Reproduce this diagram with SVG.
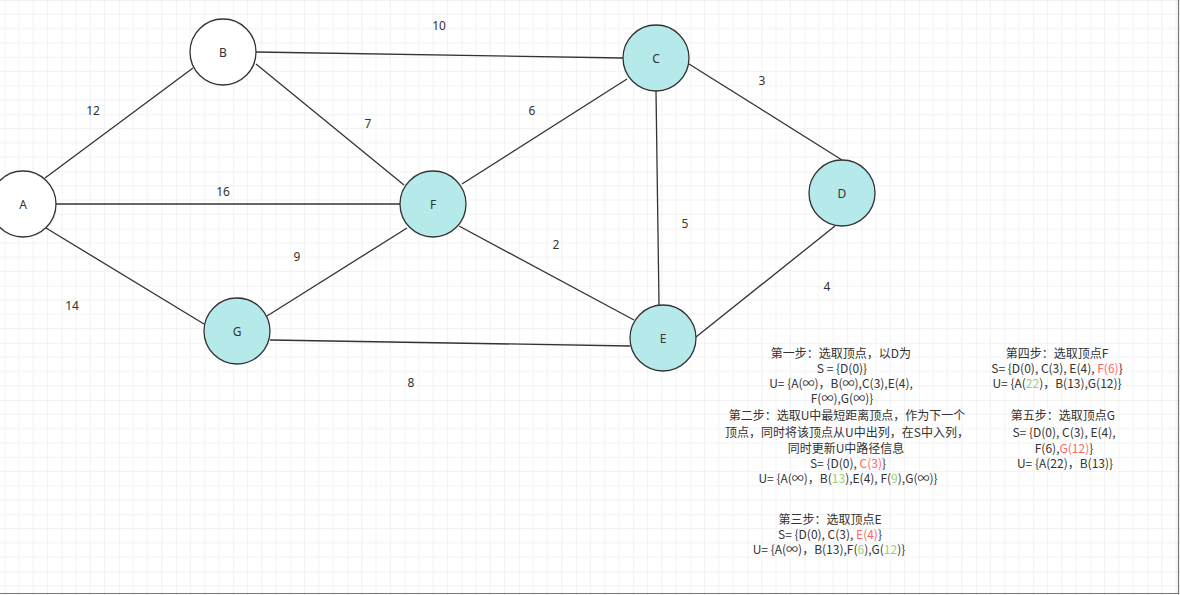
<svg xmlns="http://www.w3.org/2000/svg" width="1180" height="595" viewBox="0 0 1180 595">
<style>
.edge{stroke:#333;stroke-width:1.3;fill:none}
.node{fill:#b5e9ea;stroke:#333;stroke-width:1.3}
.node.w{fill:#fff}
.nl{font-family:"Noto Sans","Liberation Sans",sans-serif;font-size:12px;fill:#333;text-anchor:middle}
.el{font-family:"Noto Sans","Liberation Sans",sans-serif;font-size:12px;fill:#333;text-anchor:middle}
.t{font-family:"Noto Sans CJK SC",sans-serif;font-size:12px;fill:#333;text-anchor:middle}
.r{fill:#ff6666}
.g{fill:#97d077}
</style>
<defs>
<pattern id="grid" patternUnits="userSpaceOnUse" x="4.6" y="0" width="57.142857" height="57.142857">
<path d="M14.2857 0V57.14M28.5714 0V57.14M42.857 0V57.14M0 14.2857H57.14M0 28.5714H57.14M0 42.857H57.14" stroke="#f2f2f2" stroke-width="1" fill="none"/>
<path d="M0 0V57.14M0 0H57.14" stroke="#e8e8e8" stroke-width="1" fill="none"/>
</pattern>
</defs>
<rect width="1180" height="595" fill="#fff"/>
<rect width="1180" height="595" fill="url(#grid)"/>
<path d="M1178.5 0V594.5M0 593.5H1179" stroke="#777" stroke-width="1.2" fill="none"/>
<g id="connectors">
<line class="edge" x1="45" y1="178" x2="193" y2="68"/>
<line class="edge" x1="56" y1="204" x2="400" y2="204"/>
<line class="edge" x1="46" y1="228" x2="204" y2="324"/>
<line class="edge" x1="256" y1="52" x2="623" y2="58"/>
<line class="edge" x1="256" y1="64" x2="404" y2="185"/>
<line class="edge" x1="462" y1="184" x2="627" y2="79"/>
<line class="edge" x1="689" y1="64" x2="842" y2="160"/>
<line class="edge" x1="656" y1="91" x2="659" y2="305"/>
<line class="edge" x1="459" y1="226" x2="634" y2="320"/>
<line class="edge" x1="407" y1="228" x2="267" y2="316"/>
<line class="edge" x1="835" y1="226" x2="696" y2="337"/>
<line class="edge" x1="270" y1="340" x2="630" y2="346"/>
</g>
<g id="edge-labels">
<text class="el" x="439" y="30">10</text>
<text class="el" x="93" y="115">12</text>
<text class="el" x="368" y="128">7</text>
<text class="el" x="532" y="115">6</text>
<text class="el" x="762" y="85">3</text>
<text class="el" x="223" y="196">16</text>
<text class="el" x="685" y="228">5</text>
<text class="el" x="556" y="249">2</text>
<text class="el" x="297" y="261">9</text>
<text class="el" x="72" y="310">14</text>
<text class="el" x="827" y="291">4</text>
<text class="el" x="411" y="387">8</text>
</g>
<g id="node-A"><circle class="node w" cx="23" cy="204" r="33"/><text class="nl" x="23" y="209">A</text></g>
<g id="node-B"><circle class="node w" cx="223" cy="52" r="33"/><text class="nl" x="223" y="57">B</text></g>
<g id="node-C"><circle class="node" cx="656" cy="58" r="33"/><text class="nl" x="656" y="63">C</text></g>
<g id="node-D"><circle class="node" cx="842" cy="193" r="33"/><text class="nl" x="842" y="198">D</text></g>
<g id="node-E"><circle class="node" cx="663" cy="338" r="33"/><text class="nl" x="663" y="343">E</text></g>
<g id="node-F"><circle class="node" cx="433" cy="204" r="33"/><text class="nl" x="433" y="209">F</text></g>
<g id="node-G"><circle class="node" cx="237" cy="331" r="33"/><text class="nl" x="237" y="336">G</text></g>
<g id="step1">
<text class="t" x="841" y="358">第一步：选取顶点，以D为</text>
<text class="t" x="842" y="373">S = {D(0)}</text>
<text class="t" x="841" y="388">U= {A(∞)，B(∞),C(3),E(4),</text>
<text class="t" x="842" y="403">F(∞),G(∞)}</text>
</g>
<g id="step2">
<text class="t" x="847" y="420">第二步：选取U中最短距离顶点，作为下一个</text>
<text class="t" x="847" y="437">顶点，同时将该顶点从U中出列，在S中入列，</text>
<text class="t" x="846" y="453">同时更新U中路径信息</text>
<text class="t" x="848" y="468">S= {D(0), <tspan class="r">C(3)</tspan>}</text>
<text class="t" x="848" y="483">U= {A(∞)，B(<tspan class="g">13</tspan>),E(4), F(<tspan class="g">9</tspan>),G(∞)}</text>
</g>
<g id="step3">
<text class="t" x="830" y="524">第三步：选取顶点E</text>
<text class="t" x="830" y="539">S= {D(0), C(3), <tspan class="r">E(4)</tspan>}</text>
<text class="t" x="829" y="554">U= {A(∞)，B(13),F(<tspan class="g">6</tspan>),G(<tspan class="g">12</tspan>)}</text>
</g>
<g id="step4">
<text class="t" x="1057" y="358">第四步：选取顶点F</text>
<text class="t" x="1057" y="373">S= {D(0), C(3), E(4), <tspan class="r">F(6)</tspan>}</text>
<text class="t" x="1057" y="388">U= {A(<tspan class="g">22</tspan>)，B(13),G(12)}</text>
</g>
<g id="step5">
<text class="t" x="1063" y="420">第五步：选取顶点G</text>
<text class="t" x="1064" y="437">S= {D(0), C(3), E(4),</text>
<text class="t" x="1064" y="453">F(6),<tspan class="r">G(12)</tspan>}</text>
<text class="t" x="1065" y="468">U= {A(22)，B(13)}</text>
</g>
</svg>
